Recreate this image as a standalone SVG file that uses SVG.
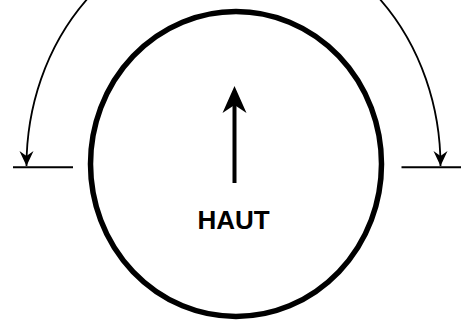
<svg xmlns="http://www.w3.org/2000/svg" width="469" height="320" viewBox="0 0 469 320">
  <style>
    .thin { fill: none; stroke: #000; stroke-width: 1.8; }
    .base { fill: none; stroke: #000; stroke-width: 2; }
    .label { font-family: "Liberation Sans", Arial, sans-serif; font-weight: bold; font-size: 26px; fill: #000; }
  </style>
  <defs>
    <marker id="head" markerUnits="userSpaceOnUse" markerWidth="20" markerHeight="20" viewBox="-16 -10 20 20" refX="0" refY="0" orient="auto-start-reverse">
      <path d="M0,0 L-15,-7 L-10,0 L-15,7 Z" fill="#000"/>
    </marker>
  </defs>
  <rect width="469" height="320" fill="#fff"/>
  <g id="dial">
    <ellipse cx="236" cy="164" rx="145.5" ry="152.5" fill="none" stroke="#000" stroke-width="5.5"/>
  </g>
  <g id="up-arrow">
    <line x1="234.5" y1="183" x2="234.5" y2="100" stroke="#000" stroke-width="4"/>
    <path d="M234.5,86 L246.5,113 L234.5,105 L222.5,113 Z" fill="#000"/>
  </g>
  <g id="label">
    <text class="label" x="233.5" y="229" text-anchor="middle">HAUT</text>
  </g>
  <g id="left-base">
    <line class="base" x1="13" y1="167.3" x2="73" y2="167.3"/>
  </g>
  <g id="right-base">
    <line class="base" x1="401.5" y1="167.3" x2="461" y2="167.3"/>
  </g>
  <g id="connectors">
    <path class="thin" d="M440.5,166 A207 236 0 0 0 26.5,166" marker-start="url(#head)" marker-end="url(#head)"/>
  </g>
</svg>
